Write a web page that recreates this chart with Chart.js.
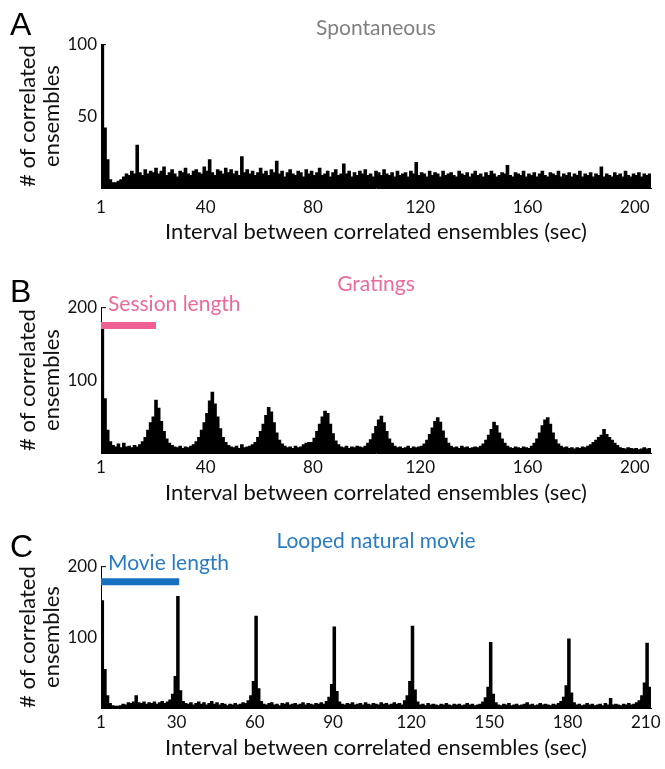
<!DOCTYPE html>
<html>
<head>
<meta charset="utf-8">
<script src="https://cdn.jsdelivr.net/npm/chart.js@4.4.0/dist/chart.umd.min.js"></script>
<style>
  body { margin: 0; background: #fff; }
  #fig { position: relative; width: 665px; height: 769px; }
  .panel { position: absolute; left: 0; width: 665px; }
</style>
</head>
<body>
<div id="fig">
  <div class="panel" style="top:0px;height:256px"><canvas id="chartA" width="665" height="256"></canvas></div>
  <div class="panel" style="top:256px;height:256px"><canvas id="chartB" width="665" height="256"></canvas></div>
  <div class="panel" style="top:512px;height:257px"><canvas id="chartC" width="665" height="257"></canvas></div>
</div>
<script>

//histogram counts, one value per 1 sec bin starting at 1 sec
var spontCounts = [
  100, 42, 20, 6, 4, 4, 5, 6, 8, 10,
  9, 12, 10, 30, 11, 9, 13, 10, 12, 11,
  14, 10, 12, 15, 9, 11, 13, 10, 8, 12,
  11, 14, 10, 9, 12, 13, 11, 10, 15, 12,
  20, 11, 9, 13, 12, 10, 14, 11, 13, 10,
  12, 9, 22, 11, 13, 10, 12, 9, 11, 14,
  10, 12, 9, 13, 11, 19, 10, 12, 8, 11,
  13, 10, 9, 12, 11, 8, 13, 10, 12, 9,
  11, 14, 9, 10, 12, 8, 11, 13, 9, 10,
  17, 10, 12, 8, 11, 9, 12, 10, 13, 9,
  10, 8, 12, 11, 9, 13, 10, 9, 11, 8,
  12, 9, 10, 11, 8, 12, 10, 18, 9, 11,
  10, 8, 12, 9, 11, 10, 8, 12, 9, 10,
  11, 9, 8, 12, 10, 9, 11, 8, 10, 12,
  9, 10, 8, 11, 9, 12, 10, 8, 9, 11,
  10, 16, 9, 8, 11, 10, 9, 12, 8, 10,
  9, 11, 8, 10, 12, 9, 8, 11, 10, 9,
  12, 8, 10, 9, 11, 8, 10, 9, 12, 8,
  10, 9, 11, 8, 10, 9, 15, 8, 10, 9,
  8, 11, 9, 10, 8, 12, 9, 8, 10, 9,
  11, 8, 10, 9, 10
];

var gratingCounts = [
  178, 75, 32, 16, 11, 9, 13, 8, 14, 9,
  10, 8, 11, 9,
  12, 16, 22, 32, 42, 50, 73, 62, 44, 30, 20, 14, 11,
  9, 8, 10, 7, 9, 8, 10,
  12, 16, 22, 32, 42, 55, 72, 84, 68, 50, 34, 22, 15, 11,
  9, 8, 10, 7, 12, 8, 9, 10,
  12, 15, 22, 30, 40, 52, 63, 57, 42, 28, 18, 13,
  10, 8, 9, 7, 10, 8, 9, 12, 14,
  15, 15, 21, 30, 40, 50, 58, 55, 40, 27, 17, 12,
  9, 8, 10, 7, 9, 8, 10, 9, 8,
  10, 14, 19, 27, 37, 46, 51, 42, 30, 20, 14, 10,
  8, 9, 7, 8, 10, 7, 9, 8, 9,
  10, 13, 18, 26, 35, 44, 49, 43, 31, 21, 14, 10,
  8, 9, 7, 10, 8, 9, 7, 8, 9, 8,
  10, 13, 18, 25, 33, 43, 38, 28, 20, 14, 10,
  8, 7, 9, 8, 7, 9, 8, 7,
  10, 14, 20, 28, 38, 46, 49, 40, 28, 19, 13, 10,
  8, 9, 7, 8, 6, 8, 7, 9, 8,
  10, 12, 15, 18, 22, 25, 33, 26, 22, 18, 14, 11,
  8, 7, 6, 8, 7, 6, 7, 5, 6, 8, 6, 7
];

var movieCounts = [
  152, 55, 18, 7, 4, 3, 3, 4, 6, 5,
  8, 7, 9, 18, 8, 7, 9, 6, 8, 7,
  9, 6, 8, 10, 7, 9,
  12, 20, 45, 158, 25, 10, 7,
  6, 8, 5, 7, 9, 6, 8, 5, 7, 10, 6, 8, 5, 7, 6, 4, 6, 5, 7, 5, 6, 8, 7,
  11, 18, 38, 130, 28, 10,
  6, 5, 7, 8, 5, 6, 4, 7, 6, 8, 5, 6, 7, 5, 6, 8, 5, 7, 6, 5, 7, 6, 8, 6,
  10, 16, 34, 115, 24, 9,
  6, 5, 7, 6, 8, 5, 6, 7, 5, 8, 6, 5, 7, 6, 5, 8, 6, 7, 5, 6, 8, 6, 7, 5,
  11, 18, 38, 116, 26, 9,
  5, 6, 4, 7, 5, 6, 5, 4, 6, 5, 7, 5, 4, 6, 5, 6, 4, 5, 7, 5, 6, 4, 5, 6,
  9, 15, 30, 93, 20, 8,
  5, 4, 6, 5, 7, 4, 5, 6, 4, 5, 6, 8, 5, 6, 4, 5, 7, 5, 6, 5, 4, 6, 5, 7,
  10, 16, 32, 98, 22, 8,
  5, 6, 4, 5, 7, 5, 6, 4, 5, 6, 4, 7, 5, 14, 5, 6, 5, 4, 6, 5, 7, 5, 6, 8,
  11, 18, 36, 92, 30, 12
];

//axis ticks
var ticksAB = [1, 40, 80, 120, 160, 200];
var ticksC = [1, 30, 60, 90, 120, 150, 180, 210];
var yTicksA = [50, 100];
var yTicksBC = [100, 200];

//length bars (sec) and their height (count)
var sessionSpan = [1, 21.5];
var sessionLevel = 175;
var movieSpan = [1, 31];
var movieLevel = 178;

var binStart = 1;
var fontFamily = "Lato, 'Open Sans', sans-serif";

function toBins(counts) {
  return counts.map(function(c, i) {
    return {x: binStart + i + 0.5, y: c};
  });
}

//panel letter, top tick, bar label
var panelMarks = {
  id: 'panelMarks',
  afterDraw: function(chart, args, opts) {
    var ctx = chart.ctx;
    var xs = chart.scales.x;
    var ys = chart.scales.y;
    var top = ys.getPixelForValue(ys.max);
    ctx.save();
    ctx.strokeStyle = '#000';
    ctx.lineWidth = 1;
    ctx.beginPath();
    ctx.moveTo(xs.left, top + 0.5);
    ctx.lineTo(xs.left + 5, top + 0.5);
    ctx.stroke();
    ctx.font = "32px 'Liberation Sans', Arial, sans-serif";
    ctx.fillStyle = '#000';
    ctx.textBaseline = 'alphabetic';
    ctx.textAlign = 'left';
    ctx.fillText(opts.letter, 10, opts.letterY);
    if (opts.label) {
      ctx.font = "21px " + fontFamily;
      ctx.fillStyle = opts.labelColor;
      ctx.textBaseline = 'middle';
      ctx.fillText(opts.label, xs.getPixelForValue(1) + 7, top - 3);
    }
    ctx.restore();
  }
};

function makePanel(id, p) {
  //bars a bit wider than the bin so neighbours overlap and no hairline gaps show
  var datasets = [{
    type: 'bar',
    data: toBins(p.counts),
    backgroundColor: '#000',
    borderWidth: 0,
    barPercentage: 1.35,
    categoryPercentage: 1,
    order: 2
  }];
  if (p.span) {
    datasets.push({
      type: 'line',
      data: [{x: p.span[0], y: p.level}, {x: p.span[1], y: p.level}],
      borderColor: p.barColor,
      borderWidth: 7,
      borderCapStyle: 'butt',
      pointRadius: 0,
      order: 1
    });
  }

  new Chart(document.getElementById(id), {
    type: 'bar',
    data: {datasets: datasets},
    options: {
      responsive: false,
      animation: false,
      layout: {padding: {top: 0, right: 14, bottom: p.padBottom, left: 0}},
      plugins: {
        legend: {display: false},
        tooltip: {enabled: false},
        title: {
          display: true, text: p.title, color: p.titleColor, fullSize: false,
          font: {family: fontFamily, size: 21, weight: 'normal', lineHeight: 1.15},
          padding: {top: p.titleTop, bottom: p.titleBottom}
        },
        panelMarks: {letter: p.letter, letterY: p.letterY, label: p.label, labelColor: p.titleColor}
      },
      scales: {
        x: {
          type: 'linear', min: 1, max: p.xMax, offset: false,
          grid: {display: false, drawTicks: false},
          border: {display: true, color: '#000', width: 1},
          ticks: {color: '#111', font: {family: fontFamily, size: 17}, padding: p.tickPad, autoSkip: false, maxRotation: 0},
          afterBuildTicks: function(axis) {
            axis.ticks = p.xTicks.map(function(v) { return {value: v}; });
          },
          afterFit: function(axis) { axis.height = p.xHeight; },
          title: {
            display: true, text: 'Interval between correlated ensembles (sec)', color: '#111',
            font: {family: fontFamily, size: 22, lineHeight: 1.1}, padding: {top: 0, bottom: 0}
          }
        },
        y: {
          min: 0, max: p.yMax,
          grid: {display: false, drawTicks: false},
          border: {display: true, color: '#000', width: 1},
          ticks: {color: '#111', font: {family: fontFamily, size: 17}, padding: 4},
          afterBuildTicks: function(axis) {
            axis.ticks = p.yTicks.map(function(v) { return {value: v}; });
          },
          afterFit: function(axis) { axis.width = 101; },
          title: {
            display: true, text: ['# of correlated', 'ensembles'], color: '#111',
            font: {family: fontFamily, size: 22, lineHeight: 1.1}, padding: {top: 16, bottom: 0}
          }
        }
      }
    },
    plugins: [panelMarks]
  });
}

makePanel('chartA', {
  counts: spontCounts, xTicks: ticksAB, xMax: 206, yTicks: yTicksA, yMax: 100,
  title: 'Spontaneous', titleColor: '#808080', titleTop: 16, titleBottom: 4,
  letter: 'A', letterY: 35, xHeight: 56, padBottom: 12, tickPad: 9
});

makePanel('chartB', {
  counts: gratingCounts, xTicks: ticksAB, xMax: 206, yTicks: yTicksBC, yMax: 200,
  title: 'Gratings', titleColor: '#EA6A9D', titleTop: 16, titleBottom: 11,
  letter: 'B', letterY: 46, xHeight: 52, padBottom: 7, tickPad: 4,
  span: sessionSpan, level: sessionLevel, barColor: '#EE5F94', label: 'Session length'
});

makePanel('chartC', {
  counts: movieCounts, xTicks: ticksC, xMax: 212, yTicks: yTicksBC, yMax: 200,
  title: 'Looped natural movie', titleColor: '#2A7BC6', titleTop: 17, titleBottom: 13,
  letter: 'C', letterY: 45, xHeight: 52, padBottom: 9, tickPad: 4,
  span: movieSpan, level: movieLevel, barColor: '#1570C0', label: 'Movie length'
});

</script>
</body>
</html>
